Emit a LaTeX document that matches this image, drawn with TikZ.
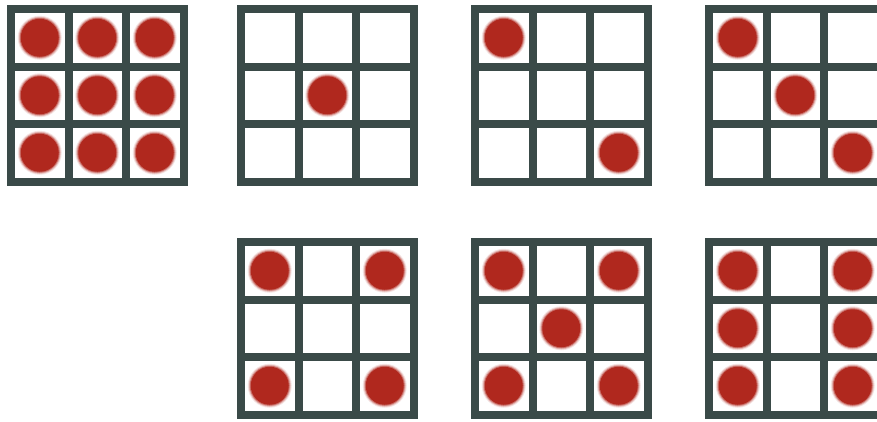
\documentclass[tikz,border=0pt]{standalone}
\definecolor{gridc}{RGB}{58,74,72}
\definecolor{dotc}{RGB}{176,40,30}
\newcommand\tgrid[3]{%
 \begin{scope}[shift={(#1,-#2)}]
  \fill[gridc] (0,0) rectangle (181,-181);
  \foreach \i in {0,1,2}{\foreach \j in {0,1,2}{
    \fill[white] ({8+57.5*\i},{-8-57.5*\j}) rectangle ++(49.5,-49.5);}}
  \foreach \i/\j in {#3}{
    \coordinate (c) at ({32.75+57.5*\i},{-32.75-57.5*\j});
    \fill[dotc,opacity=0.12] (c) circle (22);
    \fill[dotc,opacity=0.25] (c) circle (21);
    \fill[dotc,opacity=0.5] (c) circle (20);
    \fill[dotc] (c) circle (19);
  }
 \end{scope}}
\begin{document}
\begin{tikzpicture}[x=1pt,y=1pt]
\useasboundingbox (0,0) rectangle (877,-421);
\clip (0,0) rectangle (877,-421);
\fill[white] (0,0) rectangle (877,-421);
\tgrid{7}{5}{0/0,1/0,2/0,0/1,1/1,2/1,0/2,1/2,2/2}
\tgrid{237}{5}{1/1}
\tgrid{471}{5}{0/0,2/2}
\tgrid{705}{5}{0/0,1/1,2/2}
\tgrid{237}{238}{0/0,2/0,0/2,2/2}
\tgrid{471}{238}{0/0,2/0,1/1,0/2,2/2}
\tgrid{705}{238}{0/0,2/0,0/1,2/1,0/2,2/2}
\end{tikzpicture}
\end{document}
